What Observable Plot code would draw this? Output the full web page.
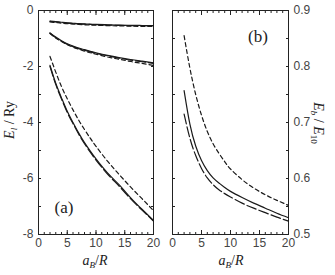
<!DOCTYPE html>
<html>
<head>
<meta charset="utf-8">
<script src="https://cdn.jsdelivr.net/npm/d3@7"></script>
<script src="https://cdn.jsdelivr.net/npm/@observablehq/plot@0.6"></script>
<style>
  body { margin: 0; background: #fff; }
  #wrap { position: relative; width: 335px; height: 275px; overflow: hidden; }
  #wrap svg { position: absolute; top: 0; }
  .lab { position: absolute; font-family: "Liberation Serif", "Times New Roman", Times, serif; color: #222; white-space: nowrap; line-height: 1; }
  .lab i { font-style: italic; }
  .lab sub { font-size: 0.65em; vertical-align: -0.25em; }
</style>
</head>
<body>
<div id="wrap"></div>
<script>
// ---- data ----
const xs = [2, 3, 4, 5, 6, 7, 8, 9, 10, 12, 14, 16, 18, 20];

// panel (a): E_l / Ry
const aTopSolid  = [-0.38, -0.40, -0.42, -0.44, -0.455, -0.47, -0.48, -0.49, -0.495, -0.51, -0.52, -0.53, -0.535, -0.54];
const aTopLong   = [-0.39, -0.41, -0.43, -0.45, -0.465, -0.48, -0.49, -0.50, -0.505, -0.52, -0.53, -0.54, -0.545, -0.55];
const aTopDash   = [-0.41, -0.43, -0.45, -0.47, -0.485, -0.50, -0.51, -0.52, -0.525, -0.54, -0.55, -0.56, -0.565, -0.57];
const aMidSolid  = [-0.80, -0.95, -1.08, -1.19, -1.27, -1.34, -1.40, -1.46, -1.51, -1.60, -1.68, -1.75, -1.81, -1.87];
const aMidLong   = [-0.81, -0.97, -1.10, -1.21, -1.29, -1.36, -1.42, -1.48, -1.53, -1.62, -1.70, -1.77, -1.83, -1.89];
const aMidDash   = [-0.82, -0.98, -1.11, -1.22, -1.31, -1.38, -1.45, -1.51, -1.56, -1.66, -1.74, -1.82, -1.89, -1.96];
const aLowSolid  = [-1.96, -2.60, -3.12, -3.60, -4.00, -4.38, -4.72, -5.02, -5.30, -5.80, -6.22, -6.68, -7.10, -7.50];
const aLowLong   = [-2.00, -2.64, -3.16, -3.64, -4.04, -4.42, -4.76, -5.06, -5.34, -5.84, -6.27, -6.72, -7.13, -7.52];
const aLowDash   = [-1.64, -2.20, -2.72, -3.15, -3.55, -3.92, -4.25, -4.56, -4.85, -5.38, -5.85, -6.30, -6.72, -7.15];

// panel (b): E_b / E_10
const bDash  = [0.855, 0.797, 0.750, 0.713, 0.684, 0.662, 0.645, 0.630, 0.617, 0.598, 0.583, 0.571, 0.561, 0.552];
const bSolid = [0.757, 0.697, 0.658, 0.632, 0.614, 0.601, 0.592, 0.584, 0.577, 0.566, 0.556, 0.547, 0.538, 0.530];
const bLong  = [0.715, 0.672, 0.641, 0.618, 0.601, 0.589, 0.580, 0.573, 0.567, 0.556, 0.547, 0.539, 0.531, 0.524];

// ticks
const xMajor = [0, 5, 10, 15, 20];
const xMinor = d3.range(0, 21, 1);
const aYLabels = [0, -2, -4, -6, -8];
const aYMinor = d3.range(-8, 1, 1);
const bYLabels = [0.5, 0.6, 0.7, 0.8, 0.9];
const bYMinor = d3.range(0.5, 0.9001, 0.05);

// ---- build ----
const rows = (ys, style) => xs.map((x, i) => ({x, y: ys[i], style}));
const dashOf = {solid: null, dash: "4,3", long: "10,3"};

function lineMarks(series) {
  return series.map(([ys, style]) =>
    Plot.line(rows(ys, style), {x: "x", y: "y", curve: "natural", stroke: "#1a1a1a", strokeWidth: 1.2, strokeDasharray: dashOf[style]}));
}

function frameAxes(yMajorTicks, yMinorTicks, ySide) {
  const tk = {stroke: "#222", fill: "none", label: null};
  return [
    Plot.axisX({anchor: "bottom", ticks: xMinor, tickSize: -2, ...tk}),
    Plot.axisX({anchor: "bottom", ticks: xMajor, tickSize: -4, ...tk}),
    Plot.axisX({anchor: "top", ticks: xMinor, tickSize: -2, ...tk}),
    Plot.axisX({anchor: "top", ticks: xMajor, tickSize: -4, ...tk}),
    Plot.axisX({anchor: "bottom", ticks: xMajor, tickSize: 0, tickPadding: 4, label: null, fill: "#444"}),
    Plot.axisY({anchor: "left", ticks: yMinorTicks, tickSize: -3, ...tk}),
    Plot.axisY({anchor: "right", ticks: yMinorTicks, tickSize: -3, ...tk}),
    Plot.axisY({anchor: ySide, ticks: yMajorTicks, tickSize: 0, tickPadding: 5, label: null, fill: "#444", tickFormat: ySide === "right" ? d3.format(".1f") : d => d === 0 ? "0" : String(d).replace("−", "-")}),
    Plot.frame({stroke: "#222", strokeWidth: 1})
  ];
}

const baseStyle = {fontFamily: "Liberation Sans, Arial, sans-serif", fontSize: "12px", background: "transparent", overflow: "visible"};

const left = Plot.plot({
  width: 170, height: 275,
  marginLeft: 38, marginRight: 17, marginTop: 10, marginBottom: 41,
  x: {domain: [0, 20]},
  y: {domain: [-8, 0]},
  style: baseStyle,
  marks: [
    ...frameAxes(aYLabels, aYMinor, "left"),
    ...lineMarks([
      [aTopLong, "long"], [aTopSolid, "solid"], [aTopDash, "dash"],
      [aMidLong, "long"], [aMidSolid, "solid"], [aMidDash, "dash"],
      [aLowLong, "long"], [aLowSolid, "solid"], [aLowDash, "dash"]
    ])
  ]
});
left.style.left = "0px";

const right = Plot.plot({
  width: 170, height: 275,
  marginLeft: 7, marginRight: 47, marginTop: 10, marginBottom: 41,
  x: {domain: [0, 20]},
  y: {domain: [0.5, 0.9]},
  style: baseStyle,
  marks: [
    ...frameAxes(bYLabels, bYMinor, "right"),
    ...lineMarks([[bDash, "dash"], [bSolid, "solid"], [bLong, "long"]])
  ]
});
right.style.left = "165px";

const wrap = document.getElementById("wrap");
wrap.appendChild(left);
wrap.appendChild(right);

function addLabel(html, x, y, size, rot) {
  const d = document.createElement("div");
  d.className = "lab";
  d.innerHTML = html;
  d.style.left = x + "px";
  d.style.top = y + "px";
  d.style.fontSize = size + "px";
  d.style.transform = `translate(-50%, -50%)` + (rot ? ` rotate(${rot}deg)` : "");
  wrap.appendChild(d);
}
addLabel("<i>E<sub>l</sub></i> / Ry", 11, 120, 14, -90);
addLabel("<i>E<sub>b</sub></i> / <i>E</i><sub>10</sub>", 317, 123, 14, 90);
addLabel("<i>a<sub>B</sub></i>/<i>R</i>", 95, 262, 14, 0);
addLabel("<i>a<sub>B</sub></i>/<i>R</i>", 231, 262, 14, 0);
addLabel("(a)", 64, 207, 17, 0);
addLabel("(b)", 258, 36, 17, 0);
</script>
</body>
</html>
